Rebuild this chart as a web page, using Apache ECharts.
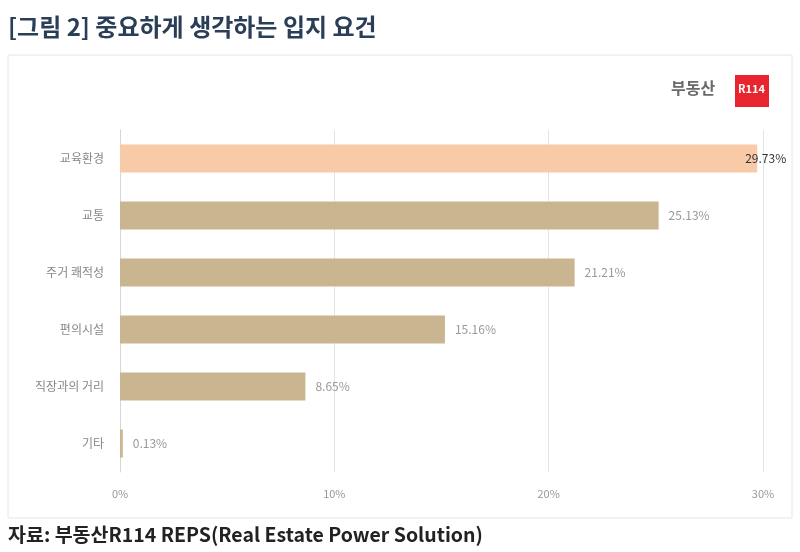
<!DOCTYPE html>
<html>
<head>
<meta charset="utf-8">
<script src="https://cdn.jsdelivr.net/npm/echarts@6/dist/echarts.min.js"></script>
<style>
  html, body { margin: 0; padding: 0; background: #fff; }
  #main { width: 800px; height: 552px; }
</style>
</head>
<body>
<div id="main"></div>
<script>
// 항목 (위에서부터)
const categories = ['교육환경', '교통', '주거 쾌적성', '편의시설', '직장과의 거리', '기타'];
const shares = [29.73, 25.13, 21.21, 15.16, 8.65, 0.13];
const xTicks = [0, 10, 20, 30];

const font = '"Noto Sans CJK KR", "Noto Sans", sans-serif';

const chart = echarts.init(document.getElementById('main'));

const barData = shares.map((v, i) => {
    if (i === 0) {
        return {
            value: v,
            itemStyle: { color: '#f8caa8' },
            label: { color: '#333', offset: [-22, 0] }
        };
    }
    return v;
});

chart.setOption({
    animation: false,
    textStyle: { fontFamily: font },
    graphic: [
        // 제목
        {
            type: 'text', left: 8, top: 15,
            style: { text: '[그림 2] 중요하게 생각하는 입지 요건', font: 'bold 24px ' + font, fill: '#2b3e58' }
        },
        // 테두리 박스
        {
            type: 'rect', shape: { x: 8, y: 55, width: 784, height: 463 },
            style: { fill: 'none', stroke: '#e6e6e6', lineWidth: 1 }
        },
        // 로고
        {
            type: 'text', left: 671, top: 80,
            style: { text: '부동산', font: 'bold 16px ' + font, fill: '#6a6a6a' }
        },
        {
            type: 'rect', shape: { x: 735, y: 75, width: 34, height: 32 },
            style: { fill: '#e8242e' }
        },
        {
            type: 'text', left: 738, top: 83,
            style: { text: 'R114', font: 'bold 11px ' + font, fill: '#fff' }
        },
        // 출처
        {
            type: 'text', left: 8, top: 525,
            style: { text: '자료: 부동산R114 REPS(Real Estate Power Solution)', font: 'bold 19.5px ' + font, fill: '#222' }
        }
    ],
    grid: { left: 120, right: 37, top: 130, bottom: 80, containLabel: false },
    xAxis: {
        type: 'value',
        min: xTicks[0],
        max: xTicks[xTicks.length - 1],
        interval: 10,
        axisLine: { show: false },
        axisTick: { show: false },
        axisLabel: { color: '#999', fontSize: 11, margin: 16, formatter: '{value}%' },
        splitLine: { lineStyle: { color: '#e3e3e3' } }
    },
    yAxis: {
        type: 'category',
        data: categories,
        inverse: true,
        axisLine: { lineStyle: { color: '#d6d6d6' } },
        axisTick: { show: false },
        axisLabel: { color: '#888', fontSize: 12, margin: 16 }
    },
    series: [{
        type: 'bar',
        data: barData,
        barWidth: 28,
        itemStyle: { color: '#c9b590' },
        label: {
            show: true,
            position: 'right',
            distance: 10,
            color: '#999',
            fontSize: 12,
            formatter: p => p.value.toFixed(2) + '%'
        }
    }]
});
</script>
</body>
</html>
